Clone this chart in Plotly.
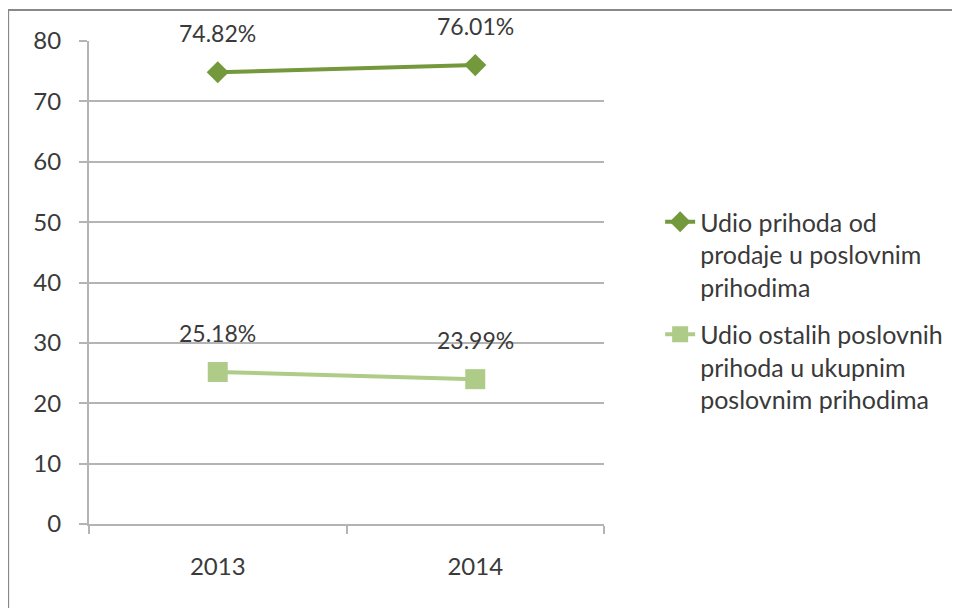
import plotly.graph_objects as go

years = ["2013", "2014"]
prodaja = [74.82, 76.01]
ostali = [25.18, 23.99]
name_prodaja = "Udio prihoda od<br>prodaje u poslovnim<br>prihodima"
name_ostali = "Udio ostalih poslovnih<br>prihoda u ukupnim<br>poslovnim prihodima"

DARK = "#73993c"
LIGHT = "#aecb88"
GRID = "#b4b4b4"
TXT = "#3a3a3a"
FONT = "Lato, 'Open Sans', sans-serif"

fig = go.Figure()
fig.add_trace(go.Scatter(
    x=years, y=prodaja, name=name_prodaja, mode="lines+markers",
    legendgroup="a",
    line=dict(color=DARK, width=4),
    marker=dict(symbol="diamond", size=17, color=DARK),
))
fig.add_trace(go.Scatter(
    x=years, y=ostali, name=name_ostali, mode="lines+markers",
    legendgroup="b",
    line=dict(color=LIGHT, width=4),
    marker=dict(symbol="square", size=20, color=LIGHT),
))

# percentage labels above each point (x given as category index)
for series in (prodaja, ostali):
    for i, v in enumerate(series):
        fig.add_annotation(
            x=i, y=v, text=f"{v:.2f}%", showarrow=False, yshift=39,
            font=dict(family=FONT, size=23, color=TXT),
        )

# outer chart frame (top and left edges visible)
fig.add_shape(
    type="rect", xref="paper", yref="paper",
    x0=-0.157, x1=1.9, y0=-0.4, y1=1.064,
    line=dict(color="#888888", width=2), layer="below",
)

fig.update_layout(
    width=960, height=608,
    margin=dict(l=81, r=364, t=33, b=92),
    paper_bgcolor="white", plot_bgcolor="white",
    font=dict(family=FONT, size=24, color=TXT),
    showlegend=True,
    legend=dict(
        x=1.109, xanchor="left", y=0.442, yanchor="middle", valign="top",
        font=dict(family=FONT, size=25, color=TXT),
        traceorder="grouped", tracegroupgap=12, bgcolor="rgba(0,0,0,0)",
    ),
)
fig.update_yaxes(
    range=[0, 80], dtick=10, showgrid=True, gridcolor=GRID, gridwidth=2,
    showline=True, linecolor=GRID, linewidth=2, zeroline=False,
    ticks="outside", ticklen=8, tickcolor=GRID, tickwidth=2,
    ticklabelstandoff=13, tickfont=dict(size=24),
)
fig.update_xaxes(
    type="category", range=[-0.5, 1.5], showgrid=False,
    showline=True, linecolor=GRID, linewidth=2,
    ticks="outside", ticklen=8, tickcolor=GRID, tickwidth=2,
    tickson="boundaries", ticklabelstandoff=20, tickfont=dict(size=24),
)

fig.write_html("out.html")
